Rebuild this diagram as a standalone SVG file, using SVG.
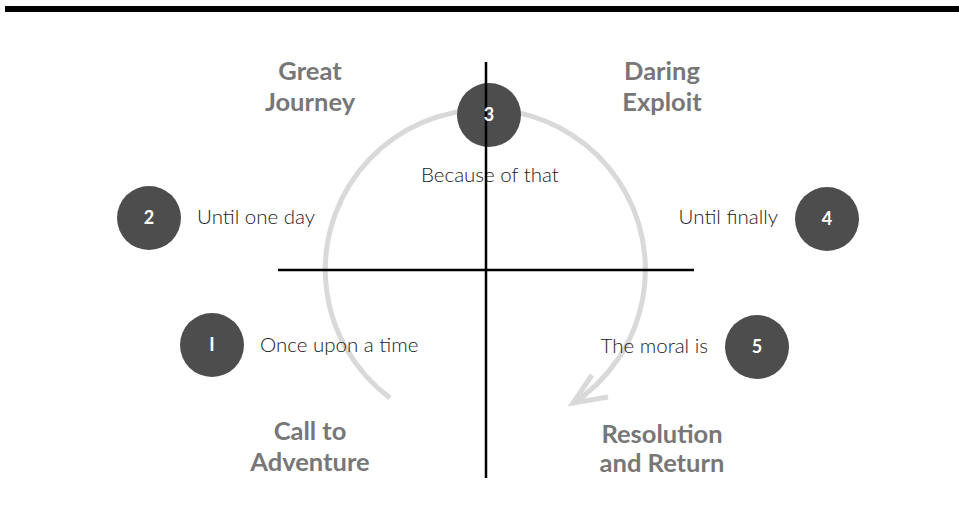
<svg xmlns="http://www.w3.org/2000/svg" width="959" height="525" viewBox="0 0 959 525">
<style>
.lbl{font-family:Lato,"Liberation Sans",sans-serif;font-weight:700;font-size:25.5px;fill:#777;text-anchor:middle}
.txt{font-family:Lato,"Liberation Sans",sans-serif;font-weight:300;font-size:20.5px;fill:#1a1a1a}
.num{font-family:Lato,"Liberation Sans",sans-serif;font-weight:700;font-size:18px;fill:#fff;text-anchor:middle}
.dot{fill:#4d4d4d}
.arc{fill:none;stroke:#d9d9d9;stroke-width:5}
.axis{stroke:#000;stroke-width:2.5}
</style>
<rect x="5" y="6" width="954" height="6" fill="#000"/>
<g id="connectors">
<path class="arc" d="M 390 398 A 160 160 0 1 1 572 404"/>
<polyline class="arc" points="592,375 573,403 608,397"/>
</g>
<g id="node2"><circle class="dot" cx="149" cy="218" r="32"/><text class="num" x="149" y="224">2</text></g>
<g id="node4"><circle class="dot" cx="827" cy="219" r="32"/><text class="num" x="827" y="225">4</text></g>
<g id="node1"><circle class="dot" cx="212" cy="345" r="32"/><text class="num" x="212" y="351">I</text></g>
<g id="node5"><circle class="dot" cx="757" cy="347" r="32"/><text class="num" x="757" y="353">5</text></g>
<g id="texts">
<text class="txt" x="421" y="182">Because of that</text>
<text class="txt" x="197" y="224">Until one day</text>
<text class="txt" x="778" y="224" text-anchor="end">Until finally</text>
<text class="txt" x="260" y="352">Once upon a time</text>
<text class="txt" x="708" y="353" text-anchor="end">The moral is</text>
</g>
<g id="labels">
<text class="lbl" x="310" y="80">Great</text>
<text class="lbl" x="310" y="111">Journey</text>
<text class="lbl" x="662" y="80">Daring</text>
<text class="lbl" x="662" y="111">Exploit</text>
<text class="lbl" x="310" y="440">Call to</text>
<text class="lbl" x="310" y="471">Adventure</text>
<text class="lbl" x="662" y="443">Resolution</text>
<text class="lbl" x="662" y="472">and Return</text>
</g>
<g id="axes">
<line class="axis" x1="486" y1="62" x2="486" y2="478"/>
<line class="axis" x1="278" y1="270" x2="694" y2="270"/>
</g>
<g id="node3"><circle class="dot" cx="489" cy="115" r="32"/><line class="axis" x1="486" y1="83" x2="486" y2="147"/><text class="num" x="489" y="121">3</text></g>
</svg>
